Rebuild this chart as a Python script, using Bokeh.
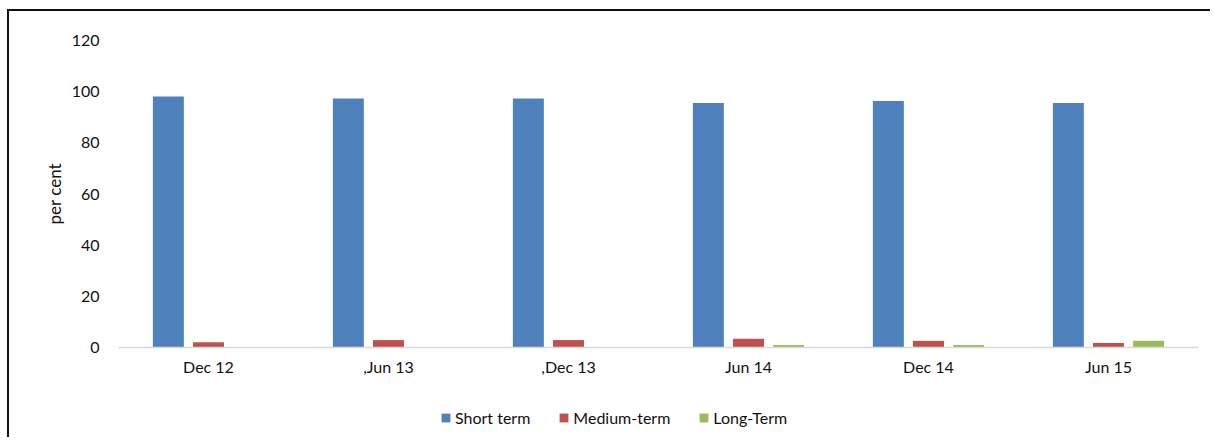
from bokeh.plotting import figure
from bokeh.models import ColumnDataSource, FactorRange, FixedTicker, Legend, LegendItem, Title
from bokeh.transform import dodge
from bokeh.embed import file_html
from bokeh.resources import INLINE

categories = ["Dec 12", ",Jun 13", ",Dec 13", "Jun 14", "Dec 14", "Jun 15"]
short_term = [98.1, 97.3, 97.3, 95.6, 96.4, 95.6]
medium_term = [2.1, 2.9, 2.9, 3.4, 2.6, 1.8]
long_term = [0.2, 0.2, 0.2, 1.0, 1.0, 2.6]
y_ticks = [0, 20, 40, 60, 80, 100, 120]

series_names = ["Short term", "Medium-term", "Long-Term"]
colors = ["#4F81BD", "#C0504D", "#9BBB59"]

src = ColumnDataSource(dict(cat=categories, s=short_term, m=medium_term, l=long_term))

FONT = "Lato"
TXT = "#111111"

# frame spans from value 120 (top) down to the canvas bottom; the x axis sits at 0
p = figure(
    x_range=FactorRange(*categories, range_padding=0),
    y_range=(-35.96, 120),
    width=1203, height=428,
    output_backend="svg", toolbar_location=None,
    min_border_left=109, min_border_right=14, min_border_top=29, min_border_bottom=0,
)
p.styles = {"margin-left": "7px", "margin-top": "9px",
            "border-left": "2px solid #111111", "border-top": "2px solid #111111"}

bw = 0.172
off = 0.223
r1 = p.vbar(x=dodge("cat", -off, range=p.x_range), top="s", width=bw, source=src,
            fill_color=colors[0], line_color=None)
r2 = p.vbar(x=dodge("cat", 0, range=p.x_range), top="m", width=bw, source=src,
            fill_color=colors[1], line_color=None)
r3 = p.vbar(x=dodge("cat", off, range=p.x_range), top="l", width=bw, source=src,
            fill_color=colors[2], line_color=None)

p.outline_line_color = None
p.xgrid.visible = False
p.ygrid.visible = False

# x axis, fixed at y = 0
p.xaxis.fixed_location = 0
p.xaxis.axis_line_color = "#d9d9d9"
p.xaxis.axis_line_width = 1.5
p.xaxis.major_tick_line_color = None
p.xaxis.minor_tick_line_color = None
p.xaxis.major_label_text_font = FONT
p.xaxis.major_label_text_font_size = "16px"
p.xaxis.major_label_text_color = TXT
p.xaxis.major_label_standoff = 3

# y axis
p.yaxis.ticker = FixedTicker(ticks=y_ticks)
p.yaxis.axis_line_color = None
p.yaxis.major_tick_line_color = None
p.yaxis.minor_tick_line_color = None
p.yaxis.major_label_text_font = FONT
p.yaxis.major_label_text_font_size = "16px"
p.yaxis.major_label_text_color = TXT
p.yaxis.major_label_standoff = 13

ylabel = Title(text="per cent", align="left", offset=215, standoff=8,
               text_font=FONT, text_font_size="17px", text_font_style="normal",
               text_color=TXT)
p.add_layout(ylabel, "left")

legend = Legend(
    items=[LegendItem(label=series_names[0], renderers=[r1]),
           LegendItem(label=series_names[1], renderers=[r2]),
           LegendItem(label=series_names[2], renderers=[r3])],
    orientation="horizontal",
    location=(322, 12),
    glyph_width=11, glyph_height=11,
    label_standoff=4, spacing=28,
    padding=0, margin=0,
    border_line_color=None, background_fill_alpha=0,
    label_text_font=FONT, label_text_font_size="16px", label_text_color=TXT,
)
p.add_layout(legend, "center")

open("out.html", "w").write(file_html(p, INLINE))
